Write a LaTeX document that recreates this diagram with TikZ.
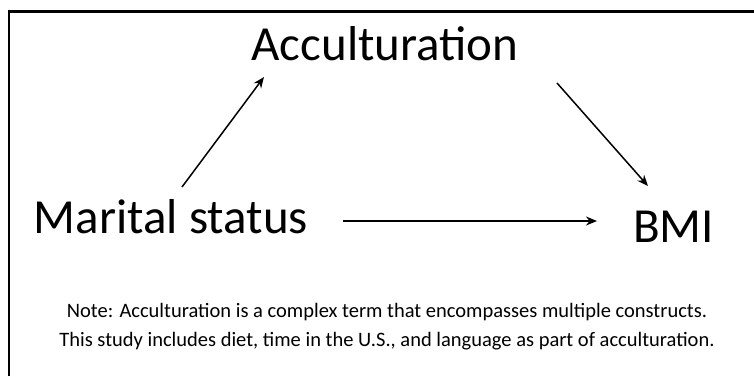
\documentclass[tikz,border=0pt]{standalone}
\usepackage{fontspec}
\setmainfont{Carlito}
\usetikzlibrary{arrows.meta}
\begin{document}
\begin{tikzpicture}[x=1pt,y=1pt,
  big/.style={font=\fontsize{49}{55}\selectfont, inner sep=0pt, anchor=base},
  notetext/.style={font=\fontsize{20.5}{29}\selectfont, inner sep=0pt, align=center, anchor=base},
  conn/.style={line width=1.5pt, -{Stealth[length=11pt,width=9pt,inset=3.5pt]}},
  frame/.style={line width=2.6pt}]
\useasboundingbox (0,0) rectangle (754,376);
\fill[white] (0,0) rectangle (754,376);
\draw[frame] (9,0) -- (9,364.5) -- (754,364.5);
\node[big] (acc) at (385,316) {Acculturation};
\node[big] (mar) at (171,143) {Marital status};
\node[big] (bmi) at (673.5,134) {BMI};
\node[notetext] (note) at (387,30) {Note: Acculturation is a complex term that encompasses multiple constructs.\\This study includes diet, time in the U.S., and language as part of acculturation.};
\coordinate (a1s) at (182,189);
\coordinate (a1e) at (264,299);
\coordinate (a2s) at (557,293);
\coordinate (a2e) at (648,190);
\coordinate (a3s) at (343,155);
\coordinate (a3e) at (597,155);
\draw[conn] (a1s) -- (a1e);
\draw[conn] (a2s) -- (a2e);
\draw[conn] (a3s) -- (a3e);
\end{tikzpicture}
\end{document}
